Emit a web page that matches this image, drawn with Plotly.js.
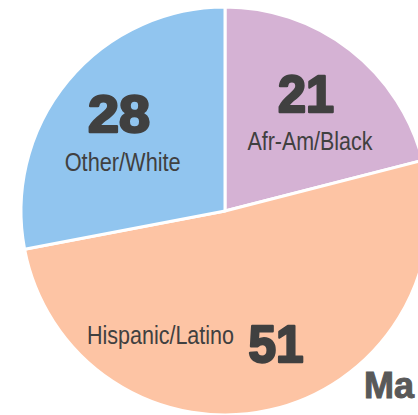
<!DOCTYPE html>
<html><head><meta charset="utf-8">
<script src="https://cdn.plot.ly/plotly-3.0.1.min.js"></script>
<style>html,body{margin:0;padding:0;overflow:hidden;background:#fff;width:418px;height:415px}#c{width:440px;height:430px}</style>
</head><body><div id="c"></div>
<script>
const categories = ["Afr-Am/Black", "Hispanic/Latino", "Other/White"];
const values = [21, 51, 28];
const colors = ["#d5b2d4", "#fdc4a4", "#91c5ef"];
const titleText = "Ma";

const W = 440, H = 430;
const px = x => x / W, py = y => 1 - y / H;
// label anchor points (pixels) for number and name
const numPos = [[306, 94], [276, 344], [119, 114]];
const namePos = [[310, 141], [160, 335], [122, 162]];
const nameWidths = [125, 147, 116];
const numWidths = [59, 58, 65];

const ann = [];
categories.forEach((c, i) => {
  ann.push({text: String(values[i]), x: px(numPos[i][0]), y: py(numPos[i][1]), xref: 'paper', yref: 'paper',
    showarrow: false, xanchor: 'center', yanchor: 'middle',
    font: {family: 'Liberation Sans, Arial', size: 52, color: '#404040', weight: 'bold'}});
  ann.push({text: c, x: px(namePos[i][0]), y: py(namePos[i][1]), xref: 'paper', yref: 'paper',
    showarrow: false, xanchor: 'center', yanchor: 'middle',
    font: {family: 'Liberation Sans, Arial', size: 25, color: '#404040'}});
});
ann.push({text: '<b>' + titleText + '</b>', x: px(362), y: py(385), xref: 'paper', yref: 'paper',
  showarrow: false, xanchor: 'left', yanchor: 'middle',
  font: {family: 'Liberation Sans, Arial', size: 36, color: '#595959'}});

Plotly.newPlot('c', [{
  type: 'pie', labels: categories, values: values, sort: false, direction: 'clockwise', rotation: 0,
  marker: {colors: colors, line: {color: '#ffffff', width: 3}},
  textinfo: 'none', hoverinfo: 'none',
  domain: {x: [21 / W, 429 / W], y: [1 - 415 / H, 1 - 7 / H]}
}], {
  width: W, height: H, margin: {l: 0, r: 0, t: 0, b: 0}, showlegend: false,
  paper_bgcolor: '#ffffff', annotations: ann
}, {staticPlot: true, displayModeBar: false}).then(() => {
  const texts = document.querySelectorAll('#c text.annotation-text');
  texts.forEach((t, k) => {
    if (k < categories.length * 2) {
      const i = Math.floor(k / 2);
      if (k % 2 === 0) {
        t.setAttribute('textLength', numWidths[i] - 3);
        t.setAttribute('lengthAdjust', 'spacingAndGlyphs');
        t.style.stroke = '#404040';
        t.style.strokeWidth = '2.5px';
        t.style.strokeLinejoin = 'round';
      } else {
        t.setAttribute('textLength', nameWidths[i]);
        t.setAttribute('lengthAdjust', 'spacingAndGlyphs');
      }
    } else {
      t.style.stroke = '#595959';
      t.style.strokeWidth = '1px';
    }
  });
});
</script></body></html>
